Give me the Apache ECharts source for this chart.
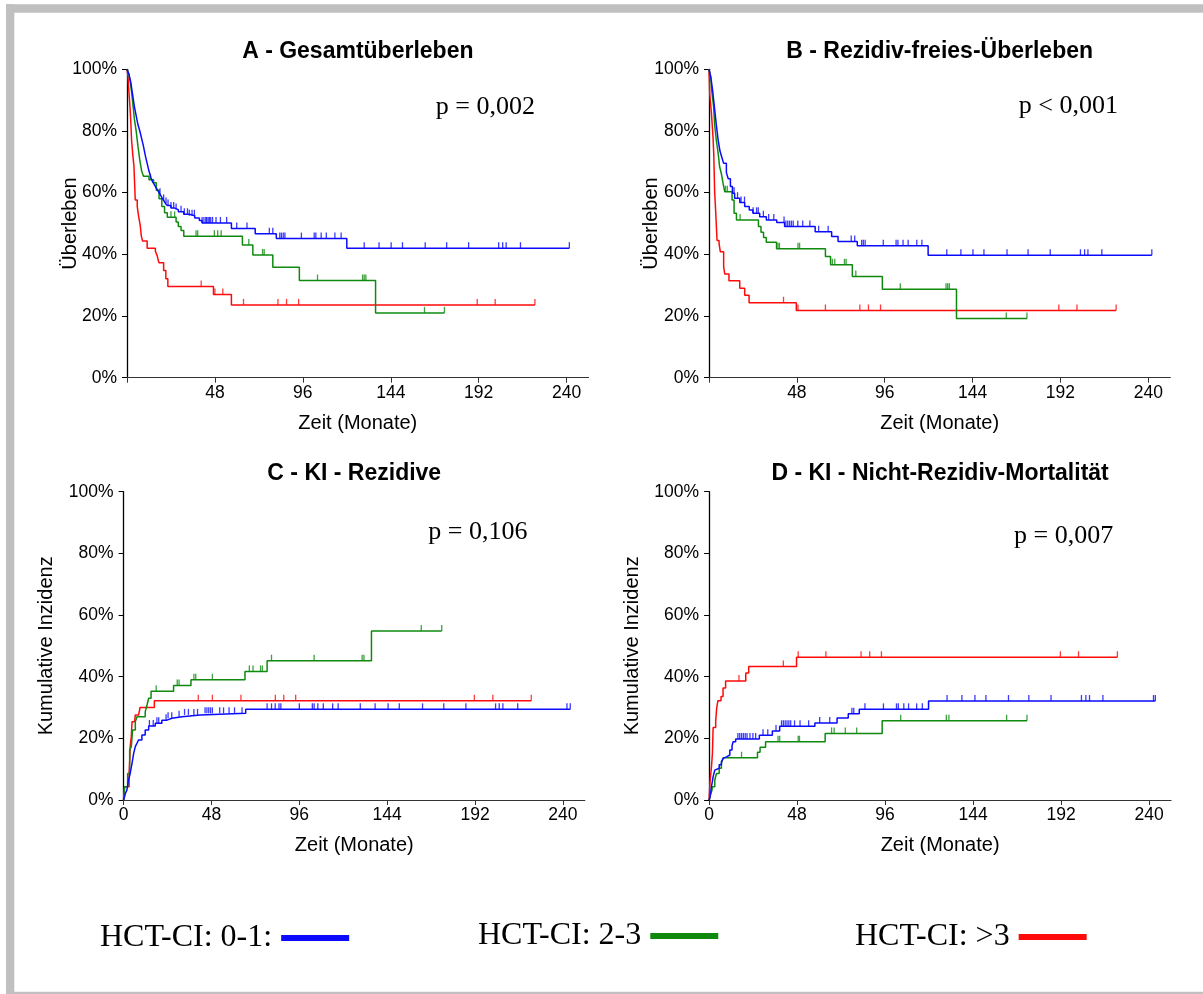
<!DOCTYPE html>
<html>
<head>
<meta charset="utf-8">
<script src="https://cdn.jsdelivr.net/npm/echarts@6/dist/echarts.min.js"></script>
<style>
html,body{margin:0;padding:0;background:#fff;}
#chart{width:1203px;height:994px;}
</style>
</head>
<body>
<div id="chart"></div>
<script>
// ---------------- data (months, percent) ----------------
const xTickValues = [0, 48, 96, 144, 192, 240];
const yTickValues = [0, 20, 40, 60, 80, 100];
const groupNames = ['HCT-CI: 0-1:', 'HCT-CI: 2-3', 'HCT-CI: >3'];
const panelTitles = ['A - Gesamtüberleben', 'B - Rezidiv-freies-Überleben', 'C - KI - Rezidive', 'D - KI - Nicht-Rezidiv-Mortalität'];
const panelYNames = ['Überleben', 'Überleben', 'Kumulative Inzidenz', 'Kumulative Inzidenz'];
const panelPValues = ['p = 0,002', 'p < 0,001', 'p = 0,106', 'p = 0,007'];

// A - Gesamtüberleben
const A_blue = [[0,100],[1,98.5],[2,96],[3,92],[4,88],[5,85],[6,82],[7,80],[8,77.5],[9,75],[10,72],[11,69.5],[12,67],[13,65],[14,63.5],[15,62.5],[16,61.5],[17,60.5],[18,59.5],[19,58.5],[20,57.5],[21,56.5],[22,55.8],[24,55],[26,54.5],[28,53.8],[31,53],[34,52.5],[37,51.8],[39.5,51],[41,50.2],[57,48.4],[70,46.7],[81.5,45.1],[120,42],[241.5,42]];
const A_blue_cens = [18,20,21.3,22.4,24,25.5,26.8,29.5,31.3,33,34,35.5,36.8,41,42,43,43.5,44.3,45,45.7,46.7,48.6,51,54.4,59.9,65.5,77.7,79.6,83.4,84.3,85.3,86.2,95.2,102.2,103.1,106,108.8,113.5,116.9,129.5,137.6,144.2,150.4,162.8,174.5,186.5,202.9,205.1,207,214.8,241.5];
const A_green = [[0,100],[1,98.5],[2,95],[3,90],[4,84],[5,80],[6,75],[7,70.5],[8,67],[9,65.3],[12,64.2],[14.5,63.2],[16,60.8],[17.5,58],[19,55.5],[20.5,53.5],[22,52],[26.8,50.5],[28,49],[29.5,47.7],[31,45.9],[63,43],[68.7,39.8],[79.6,35.8],[94.1,31.5],[135.7,21],[173.3,21]];
const A_green_cens = [12.8,24,26,37.7,38.6,47.7,49.5,51.4,66.5,74,74.9,104,128.6,129.5,130.4,162.4,173.3];
const A_red = [[0,100],[0.5,98],[1,93],[1.5,89],[2,84],[2.5,77],[3.2,72],[3.8,68.5],[4.5,57.6],[5.6,55.5],[6.3,52.5],[7.2,49.5],[7.8,46],[8.5,44.3],[11,42],[15.5,41],[16.5,39.5],[17.4,37.3],[20,34.8],[21.2,32.1],[22.3,29.6],[47.2,27],[57,23.6],[222.7,23.6]];
const A_red_cens = [40.5,48,52.3,63.6,82.4,87.1,93.7,191.2,201,222.7];

// B - Rezidiv-freies-Überleben
const B_blue = [[0,100],[1,97.5],[2,93],[3,87.5],[4,82],[5,77],[6,73.5],[7,71.5],[8,69.5],[9.5,66.5],[10.5,64.5],[11.7,62],[12.8,59.8],[14,58.2],[16.8,56.8],[19.5,55.5],[22,54.4],[24,53.3],[27.7,52.2],[31.3,51.1],[37,50.3],[41.3,49],[58,47.3],[67,45.8],[70.5,44.2],[81,42.8],[119.7,39.7],[241.9,39.7]];
const B_blue_cens = [13.7,15.6,17.5,19.4,24.1,26,26.9,29.7,32.6,35.4,41,42,43,44,45,46,48.5,51.2,55.1,59.9,65.1,77.7,79.6,83.4,84.3,85.3,95.2,102.2,103.2,106,108.8,113.5,116.3,129.9,137.6,144.2,150.2,162.8,174.3,186.4,202.9,205.2,207,214.6,241.9];
const B_green = [[0,100],[1,97],[1.5,93],[2.5,88],[3.1,82],[4,77],[5,72.8],[5.8,68.4],[6.7,66.3],[7.7,63],[8.6,60.3],[12.6,57.6],[13.7,53.3],[15,51.1],[27,49],[28.4,47.2],[29.8,45.5],[31.3,43.9],[36.9,41.8],[63.6,39.3],[66.4,36.6],[78.3,32.8],[94.7,28.7],[135.2,19.2],[173.7,19.2]];
const B_green_cens = [9,10,17,37.7,38.5,48.6,49.5,67.4,68.7,74,74.9,80.2,104.5,129.5,130.4,131.3,162.4,173.7];
const B_red = [[0,100],[0.4,92],[1.3,86],[2.2,78],[2.6,72.5],[3.1,60],[3.6,54.5],[4.4,44.5],[5.5,43.5],[6.2,40.8],[8,36],[8.6,33.6],[10.9,31.4],[16.8,29],[19.5,26.7],[21.9,24.3],[47.7,21.8],[222.4,21.8]];
const B_red_cens = [40.7,48.6,63.6,82.4,87.1,93.7,191.1,201,222.4];

// C - KI - Rezidive
const C_blue = [[0,0],[0.5,1],[1,2.2],[1.8,3.2],[2.7,6.5],[3.6,8.6],[4.6,11.9],[5.5,15.1],[6.4,17.3],[7.3,18.4],[8.2,19.5],[10,21.1],[11.8,22.7],[13.7,24],[17.3,24.9],[20.9,25.9],[23.7,26.5],[26.4,27],[31.9,27.6],[41.9,28.1],[66.7,29.4],[244,29.4]];
const C_blue_cens = [14.1,16.2,18.2,19.2,23.2,24.3,26.3,30.3,33.3,35.4,38.4,40.4,44.5,45.5,46.5,47.5,48.5,52.5,54.6,57.6,60.6,64.7,78.4,80.8,82.8,84.9,85.9,96,103.1,104.1,106.1,109.1,114.2,117.2,129.3,137.4,144.5,150.6,163.3,174.9,187,203.2,205.2,207.2,215.3,242.2,244];
const C_green = [[0,0],[0.5,4.3],[2.2,8.6],[3.3,16.2],[4.2,17.3],[4.9,22.7],[6.4,25.4],[7.3,27],[11.8,28.6],[12.8,30.8],[13.7,33],[15,35.3],[27.3,37.1],[36.8,39],[66.3,41.7],[78.4,45.2],[135.4,54.8],[173.8,54.8]];
const C_green_cens = [17.8,29.3,30.3,38.4,39.4,48.5,68.7,70.7,74.8,75.8,80.8,104.1,130.3,131.3,162.6,173.8];
const C_red = [[0,0],[0.6,4.3],[3,8.6],[3.4,13.5],[3.6,17.3],[4.2,20.5],[4.6,25.4],[6,26],[6.4,27.6],[8.2,28.2],[9,30],[16.8,32.2],[222.7,32.2]];
const C_red_cens = [40.8,48.5,64.1,82.9,87.5,94,191.6,201.7,222.7];

// D - KI - Nicht-Rezidiv-Mortalität
const D_blue = [[0,0],[0.5,1],[0.8,2.2],[1.3,4.3],[2.2,7.6],[3.1,9.7],[4,10.3],[5.5,11.4],[6.7,12.4],[7.7,13.5],[8.5,14],[9.5,14.6],[11.3,16.2],[12.5,17.5],[13.1,18.9],[14.5,19.8],[27.4,21],[34.5,22.4],[38.5,23.9],[57.7,25],[69.8,26.6],[75.9,28],[81.9,29.4],[119.7,32.1],[243.4,32.1]];
const D_blue_cens = [15.7,16.7,17.7,18.7,19.7,20.7,22.3,23.9,25.4,29.4,32,36.5,39.5,40.5,41.5,42.5,43.5,44.5,46.6,49.6,54.3,60.3,65.8,77.9,78.9,85,95.1,102.2,103.2,106.2,108.8,113.2,116.3,129.8,137.9,145,151,163.3,174.4,186.5,203.1,205.5,207.5,214.8,242.4,243.4];
const D_green = [[0,0],[0.7,1.6],[1.5,3],[1.8,4.3],[3.1,6.5],[4,8.6],[5.5,10.3],[6.7,11.9],[7.7,13.7],[26.4,15.5],[27.8,17.1],[30.8,18.9],[63.3,21.6],[94.4,25.7],[173.4,25.7]];
const D_green_cens = [17.7,37.6,38.5,48.6,49.3,66.8,68.2,74.3,80.5,104.5,129.4,130.8,162.3,173.4];
const D_red = [[0,0],[0.5,6],[1.3,10.8],[1.8,15],[2.2,23.5],[3.6,25.6],[4.1,29.6],[4.8,32.2],[6.5,33.6],[7.6,36.3],[9,38.6],[20,41.2],[21.6,43.3],[47.7,46.3],[222.7,46.3]];
const D_red_cens = [16.3,40.5,48.6,63.7,82.9,87.6,94,191.6,201.5,222.7];

const panelCurves = [[A_blue, A_green, A_red], [B_blue, B_green, B_red], [C_blue, C_green, C_red], [D_blue, D_green, D_red]];
const panelCensors = [[A_blue_cens, A_green_cens, A_red_cens], [B_blue_cens, B_green_cens, B_red_cens], [C_blue_cens, C_green_cens, C_red_cens], [D_blue_cens, D_green_cens, D_red_cens]];

// ---------------- layout & style ----------------
const SANS = '"Liberation Sans", Arial, Helvetica, sans-serif';
const SERIF = '"Liberation Serif", "Times New Roman", Times, serif';
const COLORS = ['#0a0aff', '#0f8a0f', '#ff0a0a'];
const GRIDS = [
  {left: 127, top: 69.3, width: 461.6, height: 308.4},
  {left: 709, top: 69.3, width: 461.3, height: 308.4},
  {left: 123.6, top: 491.7, width: 461.3, height: 308.3},
  {left: 709.1, top: 491.7, width: 462, height: 308.3}
];
const Y_NAME_GAP = [47, 48, 67, 67];
const X_NAME_GAP = [36, 36, 35, 35];
const TITLE_TOP = [40, 40, 462, 462];
const P_POS = [[485.3, 107.2], [1068.4, 105.8], [477.8, 531.7], [1063.6, 535.8]];
const SHOW_ZERO_X = [false, false, true, true];

function valueAt(steps, t) {
  let v = steps[0][1];
  for (const p of steps) { if (p[0] <= t) v = p[1]; else break; }
  return v;
}

const grid = [], xAxis = [], yAxis = [], series = [], title = [], graphic = [];

GRIDS.forEach((g, i) => {
  grid.push(Object.assign({containLabel: false, outerBoundsMode: 'none'}, g));
  title.push({
    text: panelTitles[i], left: g.left + g.width / 2, top: TITLE_TOP[i], textAlign: 'center', padding: 0,
    textStyle: {fontFamily: SANS, fontSize: 23, fontWeight: 'bold', color: '#000'}
  });
  xAxis.push({
    type: 'value', gridIndex: i, min: 0, max: 252, interval: 48,
    name: 'Zeit (Monate)', nameLocation: 'middle', nameGap: X_NAME_GAP[i], nameMoveOverlap: false,
    nameTextStyle: {fontFamily: SANS, fontSize: 20, color: '#000'},
    axisLine: {show: true, onZero: false, lineStyle: {color: '#333', width: 1}},
    axisTick: {show: true, length: 5, lineStyle: {color: '#333', width: 1}, customValues: xTickValues},
    axisLabel: {margin: 6, fontFamily: SANS, fontSize: 17.5, color: '#000',
      customValues: SHOW_ZERO_X[i] ? xTickValues : xTickValues.slice(1)},
    splitLine: {show: false}
  });
  yAxis.push({
    type: 'value', gridIndex: i, min: 0, max: 100, interval: 20,
    name: panelYNames[i], nameLocation: 'middle', nameGap: Y_NAME_GAP[i], nameMoveOverlap: false,
    nameTextStyle: {fontFamily: SANS, fontSize: 20, color: '#000'},
    axisLine: {show: true, lineStyle: {color: '#000', width: 1.3}},
    axisTick: {show: true, length: 5, lineStyle: {color: '#000', width: 1}, customValues: yTickValues},
    axisLabel: {margin: 10, fontFamily: SANS, fontSize: 17.5, color: '#000', formatter: '{value}%',
      customValues: yTickValues},
    splitLine: {show: false}
  });
  panelCurves[i].forEach((steps, k) => {
    series.push({
      type: 'line', name: groupNames[k], xAxisIndex: i, yAxisIndex: i,
      data: steps, step: 'end', showSymbol: false, symbol: 'none',
      lineStyle: {color: COLORS[k], width: 1.5}, itemStyle: {color: COLORS[k]},
      z: 3 + (2 - k), silent: true, animation: false
    });
    series.push({
      type: 'scatter', name: groupNames[k] + ' zensiert', xAxisIndex: i, yAxisIndex: i,
      data: panelCensors[i][k].map(t => [t, valueAt(steps, t)]),
      symbol: 'rect', symbolSize: [1.3, 6], symbolOffset: [0, -3],
      itemStyle: {color: COLORS[k]}, z: 3 + (2 - k), silent: true, animation: false
    });
  });
  graphic.push({
    type: 'text', x: P_POS[i][0], y: P_POS[i][1], silent: true,
    style: {text: panelPValues[i], fontFamily: SERIF, fontSize: 26, fill: '#000', align: 'center', verticalAlign: 'middle'}
  });
});

// grey frame
graphic.push({type: 'rect', shape: {x: 6, y: 4.3, width: 1197, height: 8.4}, style: {fill: '#c0c0c0'}, silent: true});
graphic.push({type: 'rect', shape: {x: 6, y: 4.3, width: 8.3, height: 990}, style: {fill: '#c0c0c0'}, silent: true});
graphic.push({type: 'rect', shape: {x: 6, y: 991.7, width: 1197, height: 3}, style: {fill: '#c0c0c0'}, silent: true});

const legendBase = {
  orient: 'horizontal', align: 'right', icon: 'rect', itemWidth: 68, itemHeight: 6, padding: 0,
  selectedMode: false, textStyle: {fontFamily: SERIF, fontSize: 32, color: '#000', padding: [0, 4, 0, 0]}
};
const legend = [
  Object.assign({}, legendBase, {data: [groupNames[0]], left: 100, top: 922}),
  Object.assign({}, legendBase, {data: [groupNames[1]], left: 478, top: 920}),
  Object.assign({}, legendBase, {data: [groupNames[2]], left: 855, top: 921})
];

const chart = echarts.init(document.getElementById('chart'), null, {renderer: 'canvas'});
chart.setOption({
  backgroundColor: '#fff',
  animation: false,
  title, grid, xAxis, yAxis, series, legend, graphic
});
</script>
</body>
</html>
